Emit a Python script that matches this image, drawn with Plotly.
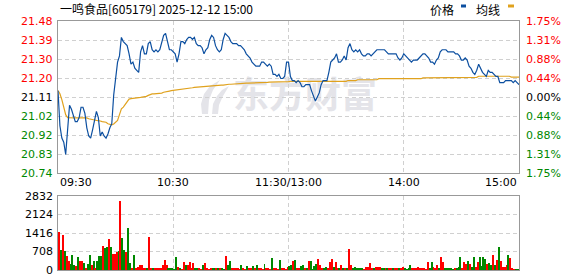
import plotly.graph_objects as go

# ---------------- data ----------------
stock_title = "一鸣食品[605179] 2025-12-12 15:00"
prev_close = 21.11

price = [
    21.14, 20.97, 20.91, 20.89, 20.83, 20.97, 21.07, 21.05, 21.02, 20.99,
    20.99, 21.01, 21.06, 21.06, 21.03, 20.96, 20.92, 20.91, 20.95, 20.99,
    21.04, 21.01, 20.92, 20.94, 20.92, 20.91, 20.93, 20.96, 20.98, 21.12,
    21.20, 21.28, 21.31, 21.40, 21.38, 21.37, 21.36, 21.32, 21.27, 21.28,
    21.25, 21.24, 21.23, 21.33, 21.36, 21.32, 21.32, 21.37, 21.38, 21.34,
    21.33, 21.34, 21.33, 21.34, 21.38, 21.41, 21.42, 21.38, 21.34, 21.34,
    21.33,
    21.32, 21.28, 21.32, 21.38, 21.38, 21.37, 21.39, 21.40, 21.40, 21.39,
    21.40, 21.37, 21.36, 21.36, 21.35, 21.32, 21.34, 21.35, 21.39, 21.41,
    21.40, 21.36, 21.34, 21.33, 21.34, 21.39, 21.42, 21.41, 21.40, 21.38,
    21.37, 21.37, 21.37, 21.36, 21.36, 21.35, 21.34, 21.32, 21.31, 21.30,
    21.28, 21.27, 21.26, 21.26, 21.26, 21.28, 21.28, 21.27, 21.26, 21.27,
    21.26, 21.22, 21.22, 21.21, 21.22, 21.20, 21.20, 21.21, 21.28, 21.28,
    21.21, 21.19, 21.19, 21.18, 21.19, 21.18, 21.16, 21.16, 21.17, 21.17,
    21.17, 21.14, 21.11, 21.09, 21.11, 21.13, 21.17, 21.19, 21.19, 21.19,
    21.23, 21.28, 21.29, 21.30, 21.32, 21.28, 21.28, 21.29, 21.31, 21.29,
    21.35, 21.37, 21.34, 21.33, 21.34, 21.33, 21.34, 21.32, 21.31, 21.31,
    21.32, 21.32, 21.31, 21.32, 21.33, 21.34, 21.34, 21.34, 21.34, 21.34,
    21.33, 21.32, 21.32, 21.32, 21.32, 21.32, 21.30, 21.29, 21.30, 21.32,
    21.31, 21.30, 21.29, 21.28, 21.29, 21.29, 21.29, 21.30, 21.31, 21.32,
    21.32, 21.31, 21.30, 21.28, 21.28, 21.27, 21.29, 21.30, 21.33, 21.34,
    21.34, 21.34, 21.33, 21.33, 21.33, 21.33, 21.32, 21.32, 21.31, 21.29,
    21.29, 21.30, 21.29, 21.26, 21.25, 21.23, 21.22, 21.24, 21.27, 21.25,
    21.23, 21.22, 21.21, 21.24, 21.23, 21.23, 21.22, 21.21, 21.21, 21.18,
    21.18, 21.18, 21.19, 21.19, 21.19, 21.19, 21.18, 21.19, 21.18, 21.17,
]

avg_price = [
    21.142, 21.126, 21.097, 21.056, 21.024, 21.009, 21.008, 21.008, 21.008, 21.008,
    21.008, 21.008, 21.008, 21.008, 21.008, 21.008, 21.004, 21.001, 21.000, 20.998,
    20.996, 20.996, 20.993, 20.990, 20.988, 20.987, 20.980, 20.975, 20.974, 20.979,
    20.987, 20.996, 21.024, 21.052, 21.061, 21.073, 21.089, 21.100, 21.102, 21.104,
    21.104, 21.105, 21.107, 21.108, 21.110, 21.110, 21.113, 21.118, 21.123, 21.125,
    21.125, 21.126, 21.126, 21.128, 21.129, 21.133, 21.134, 21.138, 21.139, 21.141,
    21.142,
    21.143, 21.144, 21.146, 21.147, 21.147, 21.149, 21.151, 21.152, 21.154, 21.155,
    21.157, 21.158, 21.159, 21.160, 21.160, 21.161, 21.162, 21.163, 21.164, 21.164,
    21.164, 21.165, 21.166, 21.167, 21.168, 21.168, 21.170, 21.171, 21.172, 21.172,
    21.173, 21.174, 21.175, 21.177, 21.177, 21.177, 21.177, 21.178, 21.178, 21.178,
    21.178, 21.179, 21.180, 21.180, 21.181, 21.181, 21.181, 21.181, 21.181, 21.182,
    21.182, 21.183, 21.183, 21.183, 21.183, 21.184, 21.184, 21.185, 21.185, 21.185,
    21.186, 21.186, 21.186, 21.186, 21.186, 21.186, 21.186, 21.186, 21.186, 21.186,
    21.186, 21.186, 21.186, 21.186, 21.186, 21.186, 21.186, 21.186, 21.186, 21.186,
    21.186, 21.186, 21.186, 21.186, 21.186, 21.186, 21.186, 21.186, 21.186, 21.186,
    21.190, 21.190, 21.190, 21.190, 21.190, 21.194, 21.194, 21.194, 21.194, 21.194,
    21.194, 21.194, 21.194, 21.194, 21.194, 21.194, 21.199, 21.199, 21.199, 21.199,
    21.199, 21.199, 21.199, 21.199, 21.199, 21.199, 21.199, 21.199, 21.199, 21.199,
    21.199, 21.199, 21.199, 21.199, 21.199, 21.199, 21.199, 21.199, 21.199, 21.203,
    21.203, 21.203, 21.203, 21.203, 21.203, 21.203, 21.203, 21.203, 21.203, 21.203,
    21.203, 21.203, 21.206, 21.206, 21.206, 21.206, 21.206, 21.206, 21.206, 21.206,
    21.206, 21.206, 21.206, 21.206, 21.206, 21.206, 21.206, 21.206, 21.211, 21.211,
    21.211, 21.211, 21.211, 21.211, 21.211, 21.211, 21.211, 21.211, 21.211, 21.211,
    21.211, 21.211, 21.211, 21.211, 21.211, 21.207, 21.207, 21.207, 21.207, 21.207,
]

volume = [
    1442, 778, 1353, 740, 549, 357, 242, 587, 204, 166,
    485, 332, 332, 255, 77, 242, 561, 204, 357, 77,
    357, 523, 523, 931, 829, 893, 1199, 893, 625, 625,
    702, 715, 2629, 1212, 778, 676, 1595, 255, 77, 587,
    77, 102, 204, 204, 89, 89, 51, 1250, 51, 89,
    51, 51, 77, 77, 204, 396, 204, 51, 51, 51,
    30, 485, 128, 51, 30, 319, 204, 179, 306, 51,
    268, 51, 77, 51, 30, 179, 281, 51, 30, 77,
    51, 51, 51, 77, 51, 51, 30, 549, 179, 357,
    51, 51, 51, 51, 30, 204, 51, 30, 166, 51,
    51, 166, 51, 179, 51, 51, 30, 242, 51, 51,
    30, 472, 51, 51, 30, 383, 51, 51, 30, 102,
    166, 179, 357, 396, 51, 51, 166, 204, 51, 51,
    357, 357, 30, 166, 242, 434, 204, 77, 77, 128,
    51, 319, 434, 102, 319, 77, 51, 204, 51, 51,
    51, 817, 204, 51, 128, 77, 51, 51, 51, 30,
    128, 102, 281, 51, 51, 128, 128, 128, 51, 51,
    51, 51, 51, 89, 51, 51, 89, 51, 51, 102,
    51, 30, 51, 204, 51, 51, 51, 128, 51, 51,
    51, 30, 319, 51, 319, 102, 51, 179, 51, 510,
    319, 51, 51, 51, 51, 30, 51, 51, 102, 510,
    51, 319, 242, 357, 242, 128, 510, 128, 319, 510,
    166, 510, 434, 242, 281, 204, 587, 204, 396, 893,
    357, 128, 102, 204, 587, 472, 51, 30, 30, 30,
    931,
]

# +1 = up tick (red), -1 = down tick (green)
volume_dir = [
    1, -1, 1, -1, 1, 1, -1, -1, -1, 1,
    -1, 1, 1, -1, 1, -1, -1, 1, -1, 1,
    -1, -1, -1, 1, -1, -1, 1, -1, 1, 1,
    1, -1, 1, -1, -1, 1, -1, -1, 1, -1,
    1, 1, 1, 1, 1, 1, -1, 1, 1, -1,
    1, 1, 1, 1, 1, 1, 1, -1, -1, -1,
    -1, -1, 1, -1, 1, 1, -1, 1, 1, 1,
    1, -1, -1, 1, 1, -1, 1, 1, 1, 1,
    -1, -1, 1, -1, 1, -1, -1, 1, -1, -1,
    1, 1, 1, 1, 1, -1, 1, 1, -1, 1,
    1, -1, 1, -1, 1, 1, 1, -1, 1, 1,
    1, -1, 1, 1, 1, -1, 1, 1, 1, 1,
    -1, -1, 1, -1, 1, 1, -1, -1, 1, -1,
    1, -1, -1, -1, -1, 1, 1, 1, -1, -1,
    1, 1, 1, -1, 1, 1, -1, 1, -1, 1,
    -1, 1, 1, -1, -1, -1, -1, -1, -1, 1,
    1, 1, 1, 1, -1, 1, 1, 1, -1, -1,
    1, -1, 1, 1, -1, 1, 1, -1, 1, 1,
    -1, -1, -1, -1, 1, 1, 1, 1, 1, 1,
    1, 1, 1, -1, -1, 1, 1, 1, -1, 1,
    1, -1, -1, -1, -1, -1, 1, -1, -1, -1,
    1, 1, 1, -1, 1, -1, -1, 1, 1, -1,
    -1, -1, -1, 1, -1, -1, 1, -1, 1, -1,
    1, 1, 1, 1, -1, 1, 1, 1, -1, -1,
    -1,
]

price_ticks = [20.74, 20.8325, 20.925, 21.0175, 21.11, 21.2025, 21.295, 21.3875, 21.48]
price_tick_labels = ["20.74", "20.83", "20.92", "21.02", "21.11", "21.20", "21.30", "21.39", "21.48"]
pct_tick_labels = ["1.75%", "1.31%", "0.88%", "0.44%", "0.00%", "0.44%", "0.88%", "1.31%", "1.75%"]
vol_ticks = [0, 708, 1416, 2124, 2832]
vol_tick_labels = ["0", "708", "1416", "2124", "2832"]
time_ticks = [0, 60, 120, 180, 240]
time_tick_labels = ["09:30", "10:30", "11:30/13:00", "14:00", "15:00"]

# ---------------- layout constants ----------------
W, H = 578, 276
PX_L, PX_R = 58, 519
PRICE_T, PRICE_B = 21, 173
VOL_T, VOL_B = 196, 270
UP, DOWN, FLAT = "#ff0000", "#008800", "#000000"
LINE_BLUE, LINE_GOLD = "#0c4fa0", "#e0a21e"
FRAME = "#999999"
GRID = "#d0d0d0"
FONT = "DejaVu Sans"
CJK = "Noto Sans CJK SC"


def px(x):
    return x / W


def py(y):
    return 1 - y / H


minute_idx = list(range(len(price)))
bar_colors = [UP if d > 0 else DOWN for d in volume_dir]

fig = go.Figure()
fig.add_trace(go.Scatter(x=minute_idx, y=avg_price, mode="lines",
                         line=dict(color=LINE_GOLD, width=1.2), hoverinfo="skip"))
fig.add_trace(go.Scatter(x=minute_idx, y=price, mode="lines",
                         line=dict(color=LINE_BLUE, width=1.2), hoverinfo="skip"))
fig.add_trace(go.Bar(x=minute_idx, y=volume, marker=dict(color=bar_colors, line=dict(width=0)),
                     width=0.5, offset=0.25, xaxis="x2", yaxis="y2", hoverinfo="skip"))

axis_common = dict(showline=True, linecolor=FRAME, linewidth=1, mirror=True,
                   showgrid=True, gridcolor=GRID, gridwidth=1, griddash="4px,3px",
                   zeroline=False, ticks="", showticklabels=False, fixedrange=True)

fig.update_layout(
    width=W, height=H, margin=dict(l=0, r=0, t=0, b=0),
    paper_bgcolor="white", plot_bgcolor="white", showlegend=False, bargap=0,
    xaxis=dict(domain=[px(PX_L), px(PX_R)], range=[0, 240], tickvals=time_ticks[1:-1],
               anchor="y", **axis_common),
    xaxis2=dict(domain=[px(PX_L), px(PX_R)], range=[0, 240], tickvals=time_ticks[1:-1],
                anchor="y2", matches="x", **axis_common),
    yaxis=dict(domain=[py(PRICE_B), py(PRICE_T)], range=[price_ticks[0], price_ticks[-1]],
               tickvals=price_ticks[1:-1], anchor="x", **axis_common),
    yaxis2=dict(domain=[py(VOL_B), py(VOL_T)], range=[vol_ticks[0], vol_ticks[-1]],
                tickvals=vol_ticks[1:-1], anchor="x2", **axis_common),
)

ann = []
# price labels (left) and percent labels (right)
for v, lab, plab in zip(price_ticks, price_tick_labels, pct_tick_labels):
    c = UP if v > prev_close + 1e-9 else (DOWN if v < prev_close - 1e-9 else FLAT)
    ann.append(dict(x=px(PX_L - 3), xref="paper", xanchor="right", y=v, yref="y",
                    yanchor="middle", text=lab, showarrow=False,
                    font=dict(family=FONT, size=11, color=c)))
    ann.append(dict(x=px(PX_R + 5), xref="paper", xanchor="left", y=v, yref="y",
                    yanchor="middle", text=plab, showarrow=False,
                    font=dict(family=FONT, size=11, color=c)))
# volume labels
for v, lab in zip(vol_ticks, vol_tick_labels):
    ann.append(dict(x=px(PX_L - 3), xref="paper", xanchor="right", y=v, yref="y2",
                    yanchor="middle", text=lab, showarrow=False,
                    font=dict(family=FONT, size=11, color="#000000")))
# time labels
for k, (t, lab) in enumerate(zip(time_ticks, time_tick_labels)):
    xa = "left" if k == 0 else ("right" if k == len(time_ticks) - 1 else "center")
    ann.append(dict(x=t, xref="x", xanchor=xa, y=py(182), yref="paper", yanchor="middle",
                    text=lab, showarrow=False, font=dict(family=FONT, size=11, color="#000000")))
# title
ann.append(dict(x=px(58), xref="paper", xanchor="left", y=py(8), yref="paper", yanchor="middle",
                text=stock_title, showarrow=False, font=dict(family=CJK, size=12, color="#000000")))
# legend texts
ann.append(dict(x=px(442), xref="paper", xanchor="center", y=py(9), yref="paper", yanchor="middle",
                text="价格", showarrow=False, font=dict(family=CJK, size=12, color="#000000")))
ann.append(dict(x=px(488), xref="paper", xanchor="center", y=py(9), yref="paper", yanchor="middle",
                text="均线", showarrow=False, font=dict(family=CJK, size=12, color="#000000")))
fig.update_layout(annotations=ann)

shapes = [
    dict(type="rect", xref="paper", yref="paper", x0=px(461), x1=px(466), y0=py(7.5), y1=py(4.5),
         fillcolor=LINE_BLUE, line=dict(width=0)),
    dict(type="rect", xref="paper", yref="paper", x0=px(508), x1=px(514), y0=py(7.5), y1=py(4.5),
         fillcolor=LINE_GOLD, line=dict(width=0)),
    # watermark text
    dict(type="rect", xref="paper", yref="paper", x0=px(228), x1=px(382), y0=py(118), y1=py(78),
         fillcolor="rgba(0,0,0,0)", line=dict(width=0), layer="below",
         label=dict(text="<b>东方财富</b>", font=dict(family=CJK, size=36, color="#e4e4e9"),
                    textposition="middle center")),
]


# watermark icon (two leaf strokes)
def path(pts):
    return "M " + " L ".join(f"{px(a)},{py(b)}" for a, b in pts) + " Z"


leaf1 = [(202, 114), (201, 104), (204, 94), (210, 86), (220, 80), (213, 90), (209, 100), (208, 114)]
leaf2 = [(212, 114), (213, 104), (217, 96), (222, 90), (229, 86), (223, 96), (219, 105), (218, 114)]
for lf in (leaf1, leaf2):
    shapes.append(dict(type="path", xref="paper", yref="paper", path=path(lf),
                       fillcolor="#e4e4e9", line=dict(width=0), layer="below"))
fig.update_layout(shapes=shapes)

fig.write_html("out.html")
